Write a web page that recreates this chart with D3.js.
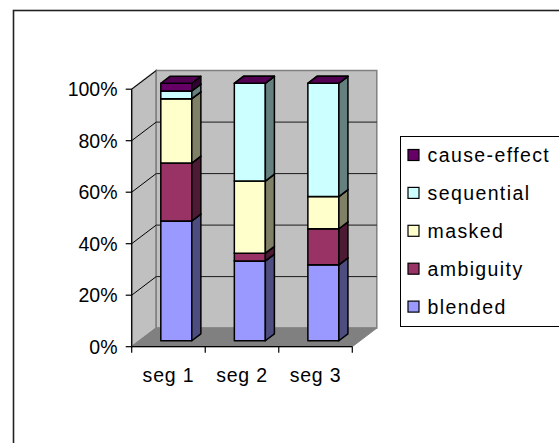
<!DOCTYPE html>
<html>
<head>
<meta charset="utf-8">
<script src="https://cdn.jsdelivr.net/npm/d3@7"></script>
<style>
  html, body { margin: 0; padding: 0; background: #fff; }
  svg { display: block; }
  text { font-family: Arial, "Liberation Sans", sans-serif; fill: #000; }
</style>
</head>
<body>
<svg id="chart" width="559" height="443"></svg>
<script>
// Segments along the category axis
const categories = ["seg 1", "seg 2", "seg 3"];
// Series, bottom of the stack first
const seriesNames = ["blended", "ambiguity", "masked", "sequential", "cause-effect"];
// Share of each series per segment (percent)
const blended     = [46.5, 31.0, 29.5];
const ambiguity   = [22.5,  3.0, 14.0];
const masked      = [25.0, 28.0, 12.5];
const sequential  = [ 3.0, 38.0, 44.0];
const causeEffect = [ 3.0,  0.0,  0.0];
// Value-axis tick labels
const tickValues = [0, 20, 40, 60, 80, 100];
const tickLabels = ["0%", "20%", "40%", "60%", "80%", "100%"];

const seriesColors = ["#9999FF", "#993366", "#FFFFCC", "#CCFFFF", "#660066"];

const rows = categories.map((c, i) => ({
  cat: c,
  "blended": blended[i],
  "ambiguity": ambiguity[i],
  "masked": masked[i],
  "sequential": sequential[i],
  "cause-effect": causeEffect[i]
}));
const stacked = d3.stack().keys(seriesNames).offset(d3.stackOffsetExpand)(rows);

const svg = d3.select("#chart");

// chart-area frame
svg.append("rect")
  .attr("x", 13.5).attr("y", 10.5).attr("width", 600).attr("height", 500)
  .attr("fill", "#fff").attr("stroke", "#222").attr("stroke-width", 1.6);

// 3D geometry: front plane and depth offset
const x0 = 131.7, x1 = 352.3;
const depth = { dx: 24.5, dy: -18.6 };
const y = d3.scaleLinear().domain([0, 1]).range([346.7, 89.2]);
const x = d3.scaleBand().domain(categories).range([x0, x1]).padding(0);
const yPct = v => y(v / 100);

const shade = (c, k) => {
  const r = d3.rgb(c);
  return d3.rgb(r.r * k, r.g * k, r.b * k).formatHex();
};
const pts = a => a.map(p => p.join(",")).join(" ");

const yBottom = y(0), yTop = y(1);
const bx0 = x0 + depth.dx, bx1 = x1 + depth.dx;

// side wall
svg.append("polygon")
  .attr("points", pts([[x0, yTop], [bx0, yTop + depth.dy], [bx0, yBottom + depth.dy], [x0, yBottom]]))
  .attr("fill", "#C0C0C0").attr("stroke", "#808080").attr("stroke-width", 1.5);
// back wall
svg.append("polygon")
  .attr("points", pts([[bx0, yTop + depth.dy], [bx1, yTop + depth.dy], [bx1, yBottom + depth.dy], [bx0, yBottom + depth.dy]]))
  .attr("fill", "#C0C0C0").attr("stroke", "#808080").attr("stroke-width", 1.5);
// floor
svg.append("polygon")
  .attr("points", pts([[x0, yBottom], [x1, yBottom], [bx1, yBottom + depth.dy], [bx0, yBottom + depth.dy]]))
  .attr("fill", "#808080").attr("stroke", "#808080").attr("stroke-width", 1);

// gridlines on the back wall and side wall
const grid = svg.append("g");
tickValues.filter(v => v > 0 && v < 100).forEach(v => {
  const yy = yPct(v);
  grid.append("line")
    .attr("x1", bx0).attr("x2", bx1).attr("y1", yy + depth.dy).attr("y2", yy + depth.dy)
    .attr("stroke", "#1a1a1a").attr("stroke-width", 1);
});
tickValues.filter(v => v > 0).forEach(v => {
  const yy = yPct(v);
  grid.append("line")
    .attr("x1", x0).attr("y1", yy).attr("x2", bx0).attr("y2", yy + depth.dy)
    .attr("stroke", "#000").attr("stroke-width", 1);
});

// stacked 3D columns
const barW = 31;
const f1 = 0.32, f2 = 0.69;
const fx = depth.dx * f1, fy = depth.dy * f1;
const sx = depth.dx * (f2 - f1), sy = depth.dy * (f2 - f1);

const bars = svg.append("g");
categories.forEach((c, ci) => {
  const left = x(c) + (x.bandwidth() - barW) / 2 + fx;
  const right = left + barW;
  stacked.forEach((s, si) => {
    const [a, b] = s[ci];
    const ya = y(a) + fy, yb = y(b) + fy;
    const col = seriesColors[si];
    const g = bars.append("g")
      .attr("stroke", "#000").attr("stroke-width", 1.5).attr("stroke-linejoin", "round");
    // front face
    g.append("rect")
      .attr("x", left).attr("y", yb).attr("width", barW).attr("height", Math.max(0, ya - yb))
      .attr("fill", col);
    // right side face
    g.append("polygon")
      .attr("points", pts([[right, yb], [right + sx, yb + sy], [right + sx, ya + sy], [right, ya]]))
      .attr("fill", shade(col, 0.5));
    // top face
    g.append("polygon")
      .attr("points", pts([[left, yb], [left + sx, yb + sy], [right + sx, yb + sy], [right, yb]]))
      .attr("fill", shade(col, 0.8));
  });
});

// value axis
const axis = svg.append("g");
axis.append("line")
  .attr("x1", x0).attr("x2", x0).attr("y1", yTop).attr("y2", yBottom)
  .attr("stroke", "#000").attr("stroke-width", 1.2);
tickValues.forEach((v, i) => {
  const yy = yPct(v);
  axis.append("line")
    .attr("x1", x0 - 6).attr("x2", x0).attr("y1", yy).attr("y2", yy)
    .attr("stroke", "#000").attr("stroke-width", 1.2);
  axis.append("text")
    .attr("x", 117.5).attr("y", yy).attr("dy", "0.36em")
    .attr("text-anchor", "end").attr("font-size", "19.5px")
    .text(tickLabels[i]);
});

// category axis
axis.append("line")
  .attr("x1", x0).attr("x2", x1).attr("y1", yBottom).attr("y2", yBottom)
  .attr("stroke", "#000").attr("stroke-width", 1.2);
x.domain().forEach(c => {
  axis.append("line")
    .attr("x1", x(c)).attr("x2", x(c)).attr("y1", yBottom).attr("y2", yBottom + 6)
    .attr("stroke", "#000").attr("stroke-width", 1.2);
  axis.append("text")
    .attr("x", x(c) + x.bandwidth() / 2).attr("y", 381.5)
    .attr("text-anchor", "middle").attr("font-size", "19.5px")
    .attr("letter-spacing", "0.8px")
    .text(c);
});
axis.append("line")
  .attr("x1", x1).attr("x2", x1).attr("y1", yBottom).attr("y2", yBottom + 6)
  .attr("stroke", "#000").attr("stroke-width", 1.2);

// legend (top entry is the top of the stack)
const legend = svg.append("g");
legend.append("rect")
  .attr("x", 400.5).attr("y", 136.5).attr("width", 200).attr("height", 190)
  .attr("fill", "#fff").attr("stroke", "#000").attr("stroke-width", 1);
const legendOrder = seriesNames.map((n, i) => i).reverse();
legendOrder.forEach((si, k) => {
  const cy = 155 + k * 37.9;
  legend.append("rect")
    .attr("x", 408).attr("y", cy - 5.5).attr("width", 11).attr("height", 11)
    .attr("fill", seriesColors[si]).attr("stroke", "#000").attr("stroke-width", 1.2);
  legend.append("text")
    .attr("x", 427.5).attr("y", cy).attr("dy", "0.36em")
    .attr("font-size", "19.5px").attr("letter-spacing", "1.4px")
    .text(seriesNames[si]);
});
</script>
</body>
</html>
